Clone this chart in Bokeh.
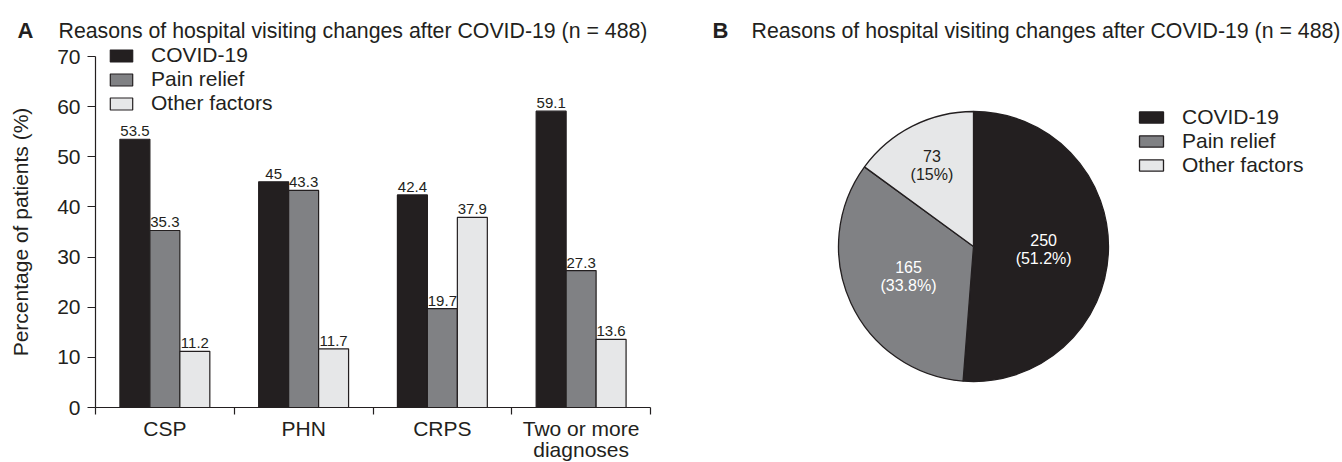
import numpy as np
from bokeh.plotting import figure
from bokeh.models import (ColumnDataSource, FixedTicker, Legend, LegendItem, Label, Range1d)
from bokeh.core.properties import value
from bokeh.embed import file_html
from bokeh.resources import INLINE

# ---------------- data ----------------
categories = ["CSP", "PHN", "CRPS", "Two or more\ndiagnoses"]
series_names = ["COVID-19", "Pain relief", "Other factors"]
covid = [53.5, 45.0, 42.4, 59.1]
pain = [35.3, 43.3, 19.7, 27.3]
other = [11.2, 11.7, 37.9, 13.6]
y_ticks = [0, 10, 20, 30, 40, 50, 60, 70]
y_max = 70

pie_counts = [250, 165, 73]
pie_pct_labels = ["(51.2%)", "(33.8%)", "(15%)"]

title_text = "Reasons of hospital visiting changes after COVID-19 (n = 488)"

# ---------------- styles / layout (pixels) ----------------
FONT = "Liberation Sans"
FS = "21px"
colors = ["#231f20", "#808184", "#e6e7e8"]
label_colors = ["#ffffff", "#ffffff", "#231f20"]
TXT = "#231f20"

W, H = 1342, 462
AX_X0, AX_X1 = 95, 650      # bar panel: x of first / last category boundary
AX_Y0, AX_Y1 = 407, 56      # bar panel: y of value 0 / value 70 (from top)
PIE_CX, PIE_CY, PIE_R = 973, 246, 135
TITLE_BASE = 30             # title baseline, px from top

ncat = len(categories)
sx = (AX_X1 - AX_X0) / ncat          # px per category
sy = (AX_Y0 - AX_Y1) / y_max         # px per percent

p = figure(width=W, height=H, output_backend="svg", toolbar_location=None,
           x_range=Range1d(-AX_X0 / sx, (W - AX_X0) / sx),
           y_range=Range1d(-(H - AX_Y0) / sy, AX_Y0 / sy),
           min_border=0)
p.outline_line_color = None
p.xgrid.visible = False
p.ygrid.visible = False

p.extra_x_ranges = {"pie_x": Range1d(-PIE_CX / PIE_R, (W - PIE_CX) / PIE_R)}
p.extra_y_ranges = {"pie_y": Range1d(-(H - PIE_CY) / PIE_R, PIE_CY / PIE_R)}

# ---------------- Panel A: bars ----------------
bw = 0.216
centers = np.arange(ncat) + 0.5
series = [covid, pain, other]
offsets = [-bw, 0.0, bw]
renderers = []
for vals, off, col in zip(series, offsets, colors):
    src = ColumnDataSource(dict(x=centers + off, top=vals,
                                lab=[f"{v:g}" for v in vals]))
    r = p.vbar(x="x", top="top", width=bw, bottom=0, source=src,
               fill_color=col, line_color="#231f20", line_width=1.2)
    renderers.append(r)
    p.text(x="x", y="top", text="lab", source=src, text_align="center",
           text_baseline="alphabetic", y_offset=-8, text_font=value(FONT),
           text_font_size="15px", text_color=TXT)

xa = p.xaxis[0]
xa.fixed_location = 0
xa.bounds = (0, ncat)
xa.ticker = FixedTicker(ticks=list(centers), minor_ticks=list(range(ncat + 1)))
xa.major_label_overrides = {float(c): lab for c, lab in zip(centers, categories)}
xa.major_tick_out = 0
xa.major_tick_in = 0
xa.minor_tick_out = 7
xa.minor_tick_in = 0
xa.minor_tick_line_color = "#231f20"
xa.minor_tick_line_width = 1.2
xa.axis_line_color = "#231f20"
xa.axis_line_width = 1.2
xa.major_label_text_font = FONT
xa.major_label_text_font_size = FS
xa.major_label_text_color = TXT
xa.major_label_text_line_height = 0.95
xa.major_label_standoff = 2

ya = p.yaxis[0]
ya.fixed_location = 0
ya.bounds = (0, y_max)
ya.ticker = FixedTicker(ticks=y_ticks, minor_ticks=[])
ya.major_tick_out = 8
ya.major_tick_in = 0
ya.major_tick_line_color = "#231f20"
ya.major_tick_line_width = 1.2
ya.axis_line_color = "#231f20"
ya.axis_line_width = 1.2
ya.major_label_text_font = FONT
ya.major_label_text_font_size = FS
ya.major_label_text_color = TXT
ya.major_label_standoff = 7
ya.axis_label = "Percentage of patients (%)"
ya.axis_label_text_font = FONT
ya.axis_label_text_font_size = FS
ya.axis_label_text_font_style = "normal"
ya.axis_label_text_color = TXT
ya.axis_label_standoff = 22

legA = Legend(items=[LegendItem(label=n, renderers=[r]) for n, r in zip(series_names, renderers)],
              location=(107, H - 115), padding=0, margin=0, spacing=0,
              glyph_width=28, glyph_height=15, label_height=23, label_standoff=16,
              label_text_font=FONT, label_text_font_size=FS, label_text_color=TXT,
              background_fill_alpha=0, border_line_color=None)
p.add_layout(legA, "center")

# ---------------- Panel B: pie ----------------
total = sum(pie_counts)
fr = np.array(pie_counts) / total
cum = np.concatenate([[0], np.cumsum(fr)])
start = np.pi / 2 - 2 * np.pi * cum[:-1]
end = np.pi / 2 - 2 * np.pi * cum[1:]
mid = (start + end) / 2
lab_r = np.array([0.52, 0.53, 0.68])
srcB = ColumnDataSource(dict(start=start, end=end, color=colors,
                             lx=lab_r * np.cos(mid), ly=lab_r * np.sin(mid),
                             n=[str(c) for c in pie_counts], pct=pie_pct_labels,
                             tc=label_colors))
wr = p.wedge(x=0, y=0, radius=1.0, start_angle="start", end_angle="end", direction="clock",
             fill_color="color", line_color="#231f20", line_width=1.3, source=srcB,
             x_range_name="pie_x", y_range_name="pie_y")
p.text(x="lx", y="ly", text="n", source=srcB, text_align="center", text_baseline="middle",
       y_offset=-9, text_font=value(FONT), text_font_size="16px", text_color="tc",
       x_range_name="pie_x", y_range_name="pie_y")
p.text(x="lx", y="ly", text="pct", source=srcB, text_align="center", text_baseline="middle",
       y_offset=9.5, text_font=value(FONT), text_font_size="16px", text_color="tc",
       x_range_name="pie_x", y_range_name="pie_y")

legB = Legend(items=[LegendItem(label=n, renderers=[wr], index=i) for i, n in enumerate(series_names)],
              location=(1136, H - 177), padding=0, margin=0, spacing=0,
              glyph_width=30, glyph_height=14, label_height=24, label_standoff=16,
              label_text_font=FONT, label_text_font_size=FS, label_text_color=TXT,
              background_fill_alpha=0, border_line_color=None)
p.add_layout(legB, "center")

# ---------------- titles ----------------
for letter, lx, tx in [("A", 17, 58), ("B", 712, 751)]:
    p.add_layout(Label(x=lx, y=H - TITLE_BASE, x_units="screen", y_units="screen", text=letter,
                       text_font=FONT, text_font_size="22px", text_font_style="bold",
                       text_baseline="alphabetic", text_color=TXT))
    p.add_layout(Label(x=tx, y=H - TITLE_BASE, x_units="screen", y_units="screen", text=title_text,
                       text_font=FONT, text_font_size="21.3px",
                       text_baseline="alphabetic", text_color=TXT))

open("out.html", "w").write(file_html(p, INLINE))
